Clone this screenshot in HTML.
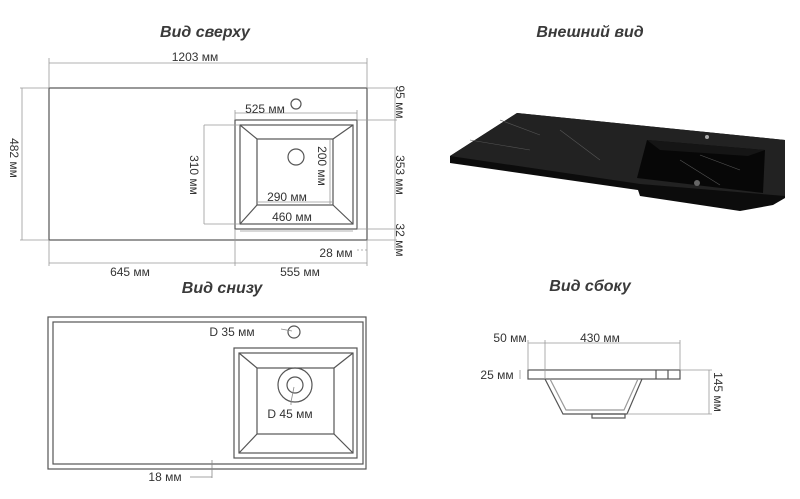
<!DOCTYPE html>
<html><head><meta charset="utf-8"><style>
html,body{margin:0;padding:0;background:#fff}
svg{display:block}
text{font-family:"Liberation Sans",sans-serif;fill:#333;font-size:12px}
.t{font-size:16px;font-weight:bold;font-style:italic;fill:#3a3a3a}
</style></head><body>
<svg width="800" height="499" viewBox="0 0 800 499">
<g fill="none" stroke="#555" stroke-width="1.2">
<rect x="49" y="88" width="318" height="152"/>
<rect x="235" y="120" width="122" height="109"/>
<rect x="240" y="125" width="113" height="99"/>
<rect x="257" y="139" width="76" height="66"/>
<line x1="240" y1="125" x2="257" y2="139"/><line x1="353" y1="125" x2="333" y2="139"/>
<line x1="240" y1="224" x2="257" y2="205"/><line x1="353" y1="224" x2="333" y2="205"/>
<circle cx="296" cy="104" r="5"/><circle cx="296" cy="157" r="8"/>
</g>
<g fill="none" stroke="#999" stroke-width="0.8">
<line x1="49" y1="63" x2="367" y2="63"/><line x1="49" y1="58" x2="49" y2="88"/><line x1="367" y1="58" x2="367" y2="88"/>
<line x1="22" y1="88" x2="22" y2="240"/><line x1="20" y1="88" x2="49" y2="88"/><line x1="20" y1="240" x2="49" y2="240"/>
<line x1="235" y1="113" x2="357" y2="113"/><line x1="235" y1="110" x2="235" y2="120"/><line x1="357" y1="110" x2="357" y2="120"/>
<line x1="204" y1="125" x2="204" y2="224"/><line x1="204" y1="125" x2="240" y2="125"/><line x1="204" y1="224" x2="240" y2="224"/>
<line x1="330" y1="139" x2="330" y2="205"/><line x1="257" y1="202" x2="333" y2="202"/><line x1="240" y1="231" x2="353" y2="231"/>
<line x1="395" y1="88" x2="395" y2="250"/><line x1="367" y1="88" x2="397" y2="88"/><line x1="357" y1="120" x2="397" y2="120"/>
<line x1="357" y1="229" x2="397" y2="229"/><line x1="367" y1="240" x2="397" y2="240"/>
<line x1="357" y1="250" x2="368" y2="250" stroke-dasharray="2 2"/>
<line x1="49" y1="263" x2="367" y2="263"/><line x1="49" y1="240" x2="49" y2="266"/><line x1="235" y1="229" x2="235" y2="266"/><line x1="367" y1="240" x2="367" y2="266"/>
</g>
<text class="t" x="205" y="37" text-anchor="middle">Вид сверху</text>
<text x="195" y="61" text-anchor="middle">1203 мм</text>
<text transform="translate(10,158) rotate(90)" text-anchor="middle">482 мм</text>
<text x="265" y="113" text-anchor="middle">525 мм</text>
<text transform="translate(190,175) rotate(90)" text-anchor="middle">310 мм</text>
<text transform="translate(318,166) rotate(90)" text-anchor="middle">200 мм</text>
<text x="287" y="201" text-anchor="middle">290 мм</text>
<text x="292" y="221" text-anchor="middle">460 мм</text>
<text transform="translate(396,102) rotate(90)" text-anchor="middle">95 мм</text>
<text transform="translate(396,175) rotate(90)" text-anchor="middle">353 мм</text>
<text transform="translate(396,240) rotate(90)" text-anchor="middle">32 мм</text>
<text x="336" y="257" text-anchor="middle">28 мм</text>
<text x="130" y="276" text-anchor="middle">645 мм</text>
<text x="300" y="276" text-anchor="middle">555 мм</text>

<!-- photo -->
<text class="t" x="590" y="37" text-anchor="middle">Внешний вид</text>
<polygon points="517,113 785,140 785,198 773,205 740,211 640,196 638,190 450,163 450,156" fill="#0c0c0c"/>
<polygon points="517,113 785,140 785,196 640,184 450,156" fill="#222"/>
<polygon points="647,140 765,150 763,193 637,178" fill="#070707"/>
<polygon points="647,140 765,150 748,156 660,150" fill="#151515"/>
<path d="M470,140 L530,150 M560,130 L600,160 M500,120 L540,135 M680,160 L720,185 M700,155 L740,170" stroke="#555" stroke-width="0.6" fill="none"/>
<circle cx="707" cy="137" r="2" fill="#aaa"/><circle cx="697" cy="183" r="3" fill="#666"/>

<!-- bottom view -->
<text class="t" x="222" y="293" text-anchor="middle">Вид снизу</text>
<g fill="none" stroke="#555" stroke-width="1.2">
<rect x="48" y="317" width="318" height="152"/>
<rect x="53" y="322" width="310" height="142"/>
<rect x="234" y="348" width="123" height="110"/>
<rect x="239" y="353" width="114" height="100"/>
<rect x="257" y="368" width="77" height="66"/>
<line x1="239" y1="353" x2="257" y2="368"/><line x1="353" y1="353" x2="334" y2="368"/>
<line x1="239" y1="453" x2="257" y2="434"/><line x1="353" y1="453" x2="334" y2="434"/>
<circle cx="295" cy="385" r="17"/><circle cx="295" cy="385" r="8"/>
<circle cx="294" cy="332" r="6"/>
</g>
<g fill="none" stroke="#888" stroke-width="0.8">
<line x1="281" y1="329" x2="292" y2="331"/><polyline points="294,387 291,402 291,405"/>
<line x1="212" y1="460" x2="212" y2="478"/><line x1="190" y1="477" x2="212" y2="477"/>
</g>
<text x="232" y="336" text-anchor="middle">D 35 мм</text>
<text x="290" y="418" text-anchor="middle">D 45 мм</text>
<text x="165" y="481" text-anchor="middle">18 мм</text>

<!-- side view -->
<text class="t" x="590" y="291" text-anchor="middle">Вид сбоку</text>
<g fill="none" stroke="#555" stroke-width="1.2">
<rect x="528" y="370" width="152" height="9"/>
<line x1="656" y1="370" x2="656" y2="379"/><line x1="668" y1="370" x2="668" y2="379"/>
<polyline points="545,379 563,414 627,414 642,379"/>
<polyline points="550,379 566,410 624,410 638,379" stroke="#999"/>
<rect x="592" y="414" width="33" height="4"/>
</g>
<g fill="none" stroke="#999" stroke-width="0.8">
<line x1="528" y1="343" x2="680" y2="343"/><line x1="528" y1="340" x2="528" y2="370"/><line x1="545" y1="340" x2="545" y2="379"/><line x1="680" y1="340" x2="680" y2="370"/>
<line x1="520" y1="370" x2="520" y2="379"/>
<line x1="709" y1="370" x2="709" y2="414"/><line x1="680" y1="370" x2="712" y2="370"/><line x1="627" y1="414" x2="712" y2="414"/>
</g>
<text x="510" y="342" text-anchor="middle">50 мм</text>
<text x="600" y="342" text-anchor="middle">430 мм</text>
<text x="497" y="379" text-anchor="middle">25 мм</text>
<text transform="translate(714,392) rotate(90)" text-anchor="middle">145 мм</text>
</svg>
</body></html>
